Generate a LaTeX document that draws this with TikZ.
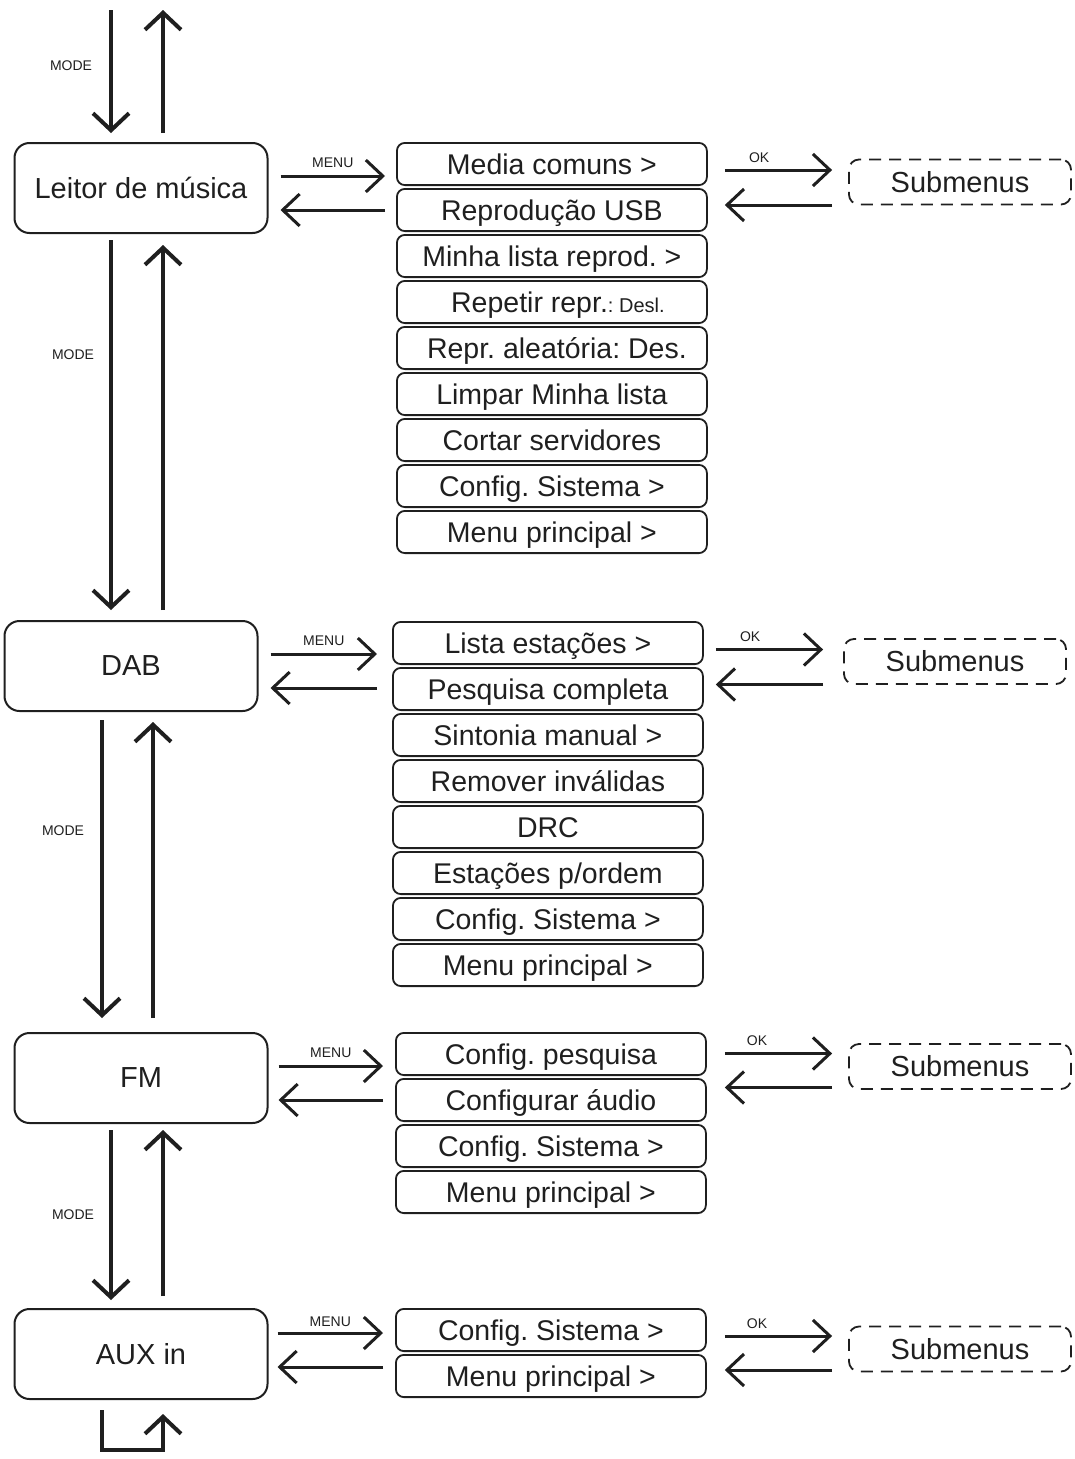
\documentclass[tikz,border=0pt]{standalone}
\usepackage{fontspec}
\setmainfont{Liberation Sans}
\frenchspacing
\usetikzlibrary{arrows.meta,positioning,calc}

\begin{document}
\begin{tikzpicture}[x=1pt, y=-1pt, black!88,
        modebox/.style={draw, rounded corners=15pt, line width=2pt, minimum width=253pt,
                    minimum height=90pt, font=\fontsize{29}{32}\selectfont},
        menuitem/.style={draw, rounded corners=8pt, line width=1.8pt, minimum width=310pt,
                    minimum height=42.2pt, inner sep=0pt, text height=26.5pt, text depth=6pt,
                    font=\fontsize{28.5}{30}\selectfont},
        subbox/.style={draw, dash pattern=on 12pt off 8pt, rounded corners=10pt, line width=1.8pt,
                    minimum width=222pt, minimum height=45pt, font=\fontsize{29}{32}\selectfont},
        varr/.style={-{Straight Barb[length=17pt, width=36pt]}, line width=4pt},
        harr/.style={-{Straight Barb[length=17pt, width=32pt]}, line width=3pt},
        lbl/.style={font=\fontsize{14}{15}\selectfont, inner sep=0pt},
        node distance=2pt]
        \useasboundingbox (0,0) rectangle (1075,1459);
        % modes
        \node[modebox] (leitor) at (141,188) {Leitor de música};
        \node[modebox] (dab) at (131,666) {DAB};
        \node[modebox] (fm) at (141,1078) {FM};
        \node[modebox] (aux) at (141,1354) {AUX in};
        % menus
        \node[menuitem, anchor=north west] (ma1) at (396,142) {Media comuns >};
        \node[menuitem, below=of ma1] (ma2) {Reprodução USB};
        \node[menuitem, below=of ma2] (ma3) {Minha lista reprod. >};
        \node[menuitem, below=of ma3] (ma4) {\hspace*{12pt}Repetir repr.{\fontsize{20}{22}\selectfont : Desl.}};
        \node[menuitem, below=of ma4] (ma5) {\hspace*{10pt}Repr. aleatória: Des.};
        \node[menuitem, below=of ma5] (ma6) {Limpar Minha lista};
        \node[menuitem, below=of ma6] (ma7) {Cortar servidores};
        \node[menuitem, below=of ma7] (ma8) {Config. Sistema >};
        \node[menuitem, below=of ma8] (ma9) {Menu principal >};
        \node[menuitem, anchor=north west] (mb1) at (392,621) {Lista estações >};
        \node[menuitem, below=of mb1] (mb2) {Pesquisa completa};
        \node[menuitem, below=of mb2] (mb3) {Sintonia manual >};
        \node[menuitem, below=of mb3] (mb4) {Remover inválidas};
        \node[menuitem, below=of mb4] (mb5) {DRC};
        \node[menuitem, below=of mb5] (mb6) {Estações p/ordem};
        \node[menuitem, below=of mb6] (mb7) {Config. Sistema >};
        \node[menuitem, below=of mb7] (mb8) {Menu principal >};
        \node[menuitem, anchor=north west] (mc1) at (395,1032) {Config. pesquisa};
        \node[menuitem, below=of mc1] (mc2) {Configurar áudio};
        \node[menuitem, below=of mc2] (mc3) {Config. Sistema >};
        \node[menuitem, below=of mc3] (mc4) {Menu principal >};
        \node[menuitem, anchor=north west] (md1) at (395,1308) {Config. Sistema >};
        \node[menuitem, below=of md1] (md2) {Menu principal >};
        % submenus
        \node[subbox] (sa) at (960,182) {Submenus};
        \node[subbox] (sb) at (955,661.5) {Submenus};
        \node[subbox] (sc) at (960,1066.5) {Submenus};
        \node[subbox] (sd) at (960,1349) {Submenus};
        % MODE
        \coordinate (modein) at (111,10); \coordinate (modeout) at (163,10);
        \draw[varr] (modein) -- node[lbl, left=17pt, pos=0.45] {MODE} ($(leitor.north)+(-30,-9)$);
        \draw[varr] ($(leitor.north)+(22,-9)$) -- (modeout);
        \draw[varr] ($(leitor.south)+(-30,6)$) -- node[lbl, left=15pt, pos=0.31] {MODE} ($(leitor.south |- dab.north)+(-30,-10)$);
        \draw[varr] ($(leitor.south |- dab.north)+(22,-10)$) -- ($(leitor.south)+(22,11)$);
        \draw[varr] ($(dab.south)+(-29,8)$) -- node[lbl, left=16pt, pos=0.37] {MODE} ($(dab.south |- fm.north)+(-29,-14)$);
        \draw[varr] ($(dab.south |- fm.north)+(22,-14)$) -- ($(dab.south)+(22,10)$);
        \draw[varr] ($(fm.south)+(-30,6)$) -- node[lbl, left=15pt, pos=0.5] {MODE} ($(aux.north)+(-30,-8)$);
        \draw[varr] ($(aux.north)+(22,-12)$) -- ($(fm.south)+(22,6)$);
        \draw[varr] ($(aux.south)+(-39,10)$) -- ($(aux.south)+(-39,50)$) -- ($(aux.south)+(22,50)$) -- ($(aux.south)+(22,14)$);
        % MENU
        \draw[harr] ($(leitor.east)+(12,-12)$) -- node[lbl, above=7pt] {MENU} ($(leitor.east -| ma1.west)+(-11,-12)$);
        \draw[harr] ($(leitor.east -| ma1.west)+(-11,22)$) -- ($(leitor.east)+(12,22)$);
        \draw[harr] ($(dab.east)+(12,-12)$) -- node[lbl, above=7pt] {MENU} ($(dab.east -| mb1.west)+(-15,-12)$);
        \draw[harr] ($(dab.east -| mb1.west)+(-15,22)$) -- ($(dab.east)+(12,22)$);
        \draw[harr] ($(fm.east)+(10,-12)$) -- node[lbl, above=7pt] {MENU} ($(fm.east -| mc1.west)+(-12,-12)$);
        \draw[harr] ($(fm.east -| mc1.west)+(-12,22)$) -- ($(fm.east)+(10,22)$);
        \draw[harr] ($(aux.east)+(9,-21)$) -- node[lbl, above=5pt] {MENU} ($(aux.east -| md1.west)+(-12,-21)$);
        \draw[harr] ($(aux.east -| md1.west)+(-12,13)$) -- ($(aux.east)+(9,13)$);
        % OK
        \draw[harr] ($(sa.west -| ma1.east)+(17,-12)$) -- node[lbl, above=6pt, pos=0.32] {OK} ($(sa.west)+(-16,-12)$);
        \draw[harr] ($(sa.west)+(-16,23)$) -- ($(sa.west -| ma1.east)+(17,23)$);
        \draw[harr] ($(sb.west -| mb1.east)+(12,-12)$) -- node[lbl, above=6pt, pos=0.32] {OK} ($(sb.west)+(-20,-12)$);
        \draw[harr] ($(sb.west)+(-20,23)$) -- ($(sb.west -| mb1.east)+(12,23)$);
        \draw[harr] ($(sc.west -| mc1.east)+(18,-13)$) -- node[lbl, above=6pt, pos=0.3] {OK} ($(sc.west)+(-16,-13)$);
        \draw[harr] ($(sc.west)+(-16,21)$) -- ($(sc.west -| mc1.east)+(18,21)$);
        \draw[harr] ($(sd.west -| md1.east)+(18,-13)$) -- node[lbl, above=6pt, pos=0.3] {OK} ($(sd.west)+(-16,-13)$);
        \draw[harr] ($(sd.west)+(-16,21)$) -- ($(sd.west -| md1.east)+(18,21)$);
\end{tikzpicture}
\end{document}
